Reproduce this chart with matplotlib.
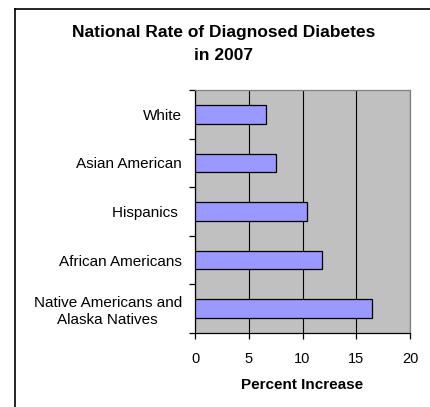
import matplotlib
matplotlib.use('Agg')
import matplotlib.pyplot as plt
from matplotlib.lines import Line2D

groups = ['White', 'Asian American', 'Hispanics ', 'African Americans',
          'Native Americans and\nAlaska Natives']
rates = [6.6, 7.5, 10.4, 11.8, 16.5]
ticks = [0, 5, 10, 15, 20]
title_lines = ['National Rate of Diagnosed Diabetes', 'in 2007']

plt.rcParams['font.family'] = ['Liberation Sans', 'DejaVu Sans']

W, H = 430, 407
fig = plt.figure(figsize=(W / 100, H / 100), dpi=100)
ax = fig.add_axes([195 / W, 1 - 333 / H, 215 / W, 243 / H])

# outer chart frame, cut off on right and bottom like the original
fx, fy = 14.5 / W, 1 - 8.5 / H
fig.add_artist(Line2D([fx, fx], [-0.1, fy], color='black', lw=1.2, transform=fig.transFigure))
fig.add_artist(Line2D([fx, 1.1], [fy, fy], color='black', lw=1.2, transform=fig.transFigure))

pos = list(range(len(groups)))[::-1]
ax.set_facecolor('#C0C0C0')
ax.barh(pos, rates, height=0.38, color='#9999FF', edgecolor='black', linewidth=0.9, zorder=3)

ax.set_xlim(0, 20)
ax.set_ylim(-0.5, len(groups) - 0.5)
ax.set_xticks(ticks)
ax.set_xticklabels([str(t) for t in ticks], fontsize=10.5)
ax.xaxis.grid(True, color='black', lw=0.8, zorder=1)
ax.set_axisbelow(True)

ax.set_yticks(pos)
ax.set_yticklabels(groups, fontsize=11, multialignment='center', linespacing=1.25)
ax.set_yticks([p + 0.5 for p in range(len(groups))] + [-0.5], minor=True)
ax.tick_params(axis='y', which='major', length=0, pad=9.5)
ax.tick_params(axis='y', which='minor', length=4, width=0.9, direction='out')
ax.tick_params(axis='x', length=4, width=0.9, direction='out', pad=9.5)

for s in ['top', 'right']:
    ax.spines[s].set_color('#808080')
    ax.spines[s].set_linewidth(0.9)
for s in ['left', 'bottom']:
    ax.spines[s].set_linewidth(0.9)

ax.set_xlabel('Percent Increase', fontsize=11, fontweight='bold', labelpad=8.5)

for line, base in zip(title_lines, [37, 60]):
    fig.text(224 / W, 1 - base / H, line, ha='center', va='baseline',
             fontsize=12.5, fontweight='bold')

fig.savefig('out.png', dpi=100)
